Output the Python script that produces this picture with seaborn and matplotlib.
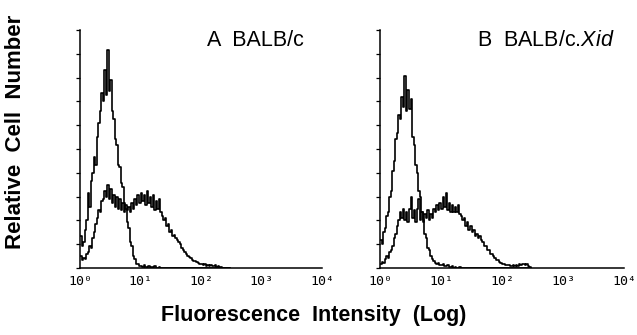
import numpy as np
import pandas as pd
import matplotlib
matplotlib.use("Agg")
import matplotlib.pyplot as plt
import seaborn as sns
from matplotlib.ticker import NullFormatter, LogLocator

# channel width in decades (log10 units), histograms start at 10^0
CH_WIDTH = 0.025

# counts, y axis top = 240
a_control = [32, 22, 26, 38, 48, 76, 62, 88, 96, 112, 104, 132, 146, 158, 176, 168, 200, 174, 220, 178,
             190, 158, 150, 130, 124, 104, 102, 86, 82, 66, 60, 46, 40, 26, 22, 12, 9, 4, 4, 2,
             2, 1, 3, 1, 0, 2, 0, 1, 0, 2, 0, 0, 1, 0, 0, 0, 0, 0, 0, 0,
             0, 0, 0, 0, 0, 0, 0, 0, 0, 0, 0, 0, 0, 0, 0, 0, 0, 0, 0, 0,
             0, 0, 0, 0, 0, 0, 0, 0, 0, 0, 0, 0, 0, 0, 0, 0, 0, 0, 0, 0]
a_stained = [12, 8, 10, 9, 14, 16, 22, 20, 30, 36, 44, 50, 58, 56, 68, 70, 78, 72, 84, 70,
             80, 66, 74, 62, 72, 60, 70, 58, 66, 56, 64, 58, 62, 56, 66, 60, 70, 64, 74, 66,
             76, 68, 74, 64, 78, 66, 72, 62, 74, 58, 68, 60, 70, 56, 52, 48, 50, 42, 44, 36,
             38, 32, 33, 30, 28, 26, 24, 20, 18, 16, 14, 12, 11, 10, 8, 7, 7, 6, 5, 4,
             4, 3, 4, 2, 3, 2, 3, 2, 2, 3, 1, 2, 1, 1, 0, 0, 0, 0, 0, 0]
b_control = [28, 24, 36, 40, 52, 56, 72, 78, 98, 108, 130, 136, 154, 150, 172, 162, 194, 158, 180, 160,
             170, 132, 124, 104, 96, 78, 72, 56, 48, 34, 30, 20, 18, 12, 9, 7, 5, 4, 5, 3,
             3, 4, 2, 2, 3, 1, 1, 2, 0, 1, 0, 0, 1, 0, 0, 0, 0, 0, 0, 0,
             0, 0, 0, 0, 0, 0, 0, 0, 0, 0, 0, 0, 0, 0, 0, 0, 0, 0, 0, 0,
             0, 0, 0, 0, 0, 0, 0, 0, 0, 0, 0, 0, 0, 0, 0, 0, 0, 0, 0, 0]
b_stained = [4, 6, 5, 9, 12, 10, 16, 18, 22, 30, 34, 42, 48, 56, 50, 60, 48, 56, 46, 60,
             72, 50, 58, 46, 60, 70, 48, 56, 46, 54, 50, 58, 48, 54, 50, 60, 56, 64, 58, 66,
             60, 72, 62, 76, 58, 66, 56, 64, 56, 62, 56, 64, 54, 52, 48, 50, 42, 46, 38, 42,
             36, 38, 32, 34, 30, 32, 28, 26, 22, 22, 18, 18, 14, 14, 12, 10, 8, 8, 6, 5,
             4, 4, 3, 3, 3, 2, 2, 3, 2, 3, 2, 4, 3, 4, 4, 3, 4, 2, 1, 0]

tick_vals = [1, 10, 100, 1000, 10000]
tick_labels = ["10\u2070", "10\u00b9", "10\u00b2", "10\u00b3", "10\u2074"]

sns.set_style("white")
plt.rcParams["font.family"] = ["Liberation Sans", "DejaVu Sans"]
plt.rcParams["mathtext.fontset"] = "custom"
plt.rcParams["mathtext.rm"] = "Liberation Sans"
plt.rcParams["mathtext.it"] = "Liberation Sans:italic"
plt.rcParams["text.color"] = "black"
plt.rcParams["xtick.color"] = "black"
plt.rcParams["ytick.color"] = "black"

W, H = 637, 335
fig = plt.figure(figsize=(W / 100, H / 100), dpi=100)

def make_df(control, stained):
    chans = np.arange(len(control)) * CH_WIDTH
    x = 10 ** chans
    return pd.DataFrame({
        "intensity": np.concatenate([x, x]),
        "count": np.concatenate([control, stained]),
        "sample": ["control"] * len(control) + ["stained"] * len(stained),
    })

panels = [
    (80, 322, make_df(a_control, a_stained)),
    (380, 624, make_df(b_control, b_stained)),
]

for left, right, df in panels:
    ax = fig.add_axes([left / W, (H - 268) / H, (right - left) / W, (268 - 30) / H])
    ax.set_xscale("log")
    for s in ["control", "stained"]:
        sub = df[df["sample"] == s]
        sns.lineplot(data=sub, x="intensity", y="count", ax=ax, color="black",
                     lw=1.2, drawstyle="steps-post", estimator=None, legend=False)
    ax.set_xlim(1, 10000)
    ax.set_ylim(0, 240)
    ax.set_xticks(tick_vals)
    ax.set_xticklabels(tick_labels, fontfamily="DejaVu Sans Mono", fontsize=9.5)
    ax.xaxis.set_minor_locator(LogLocator(base=10, subs=np.arange(2, 10)))
    ax.xaxis.set_minor_formatter(NullFormatter())
    ax.set_yticks(np.arange(0, 241, 24))
    ax.set_yticklabels([])
    ax.tick_params(axis="x", which="major", direction="out", length=4, width=0.9, pad=1)
    ax.tick_params(axis="x", which="minor", direction="out", length=2.5, width=0.8)
    ax.tick_params(axis="y", direction="out", length=3, width=0.9, left=True)
    ax.set_xlabel("")
    ax.set_ylabel("")
    sns.despine(ax=ax)
    for sp in ["left", "bottom"]:
        ax.spines[sp].set_linewidth(1.1)
        ax.spines[sp].set_color("black")

fig.text(207 / W, 1 - 41 / H, "A  BALB/c", ha="left", va="center", fontsize=15.5)
fig.text(477 / W, 1 - 41 / H, r"B  BALB/c.$\mathit{Xid}$", ha="left", va="center", fontsize=15.5)
fig.text(16 / W, 1 - 132 / H, "Relative  Cell  Number", rotation=90, ha="center", va="center",
         fontsize=16, fontweight="bold")
fig.text(314 / W, 1 - 315 / H, "Fluorescence  Intensity  (Log)", ha="center", va="center",
         fontsize=15.5, fontweight="bold")

plt.savefig("out.png", dpi=100)
